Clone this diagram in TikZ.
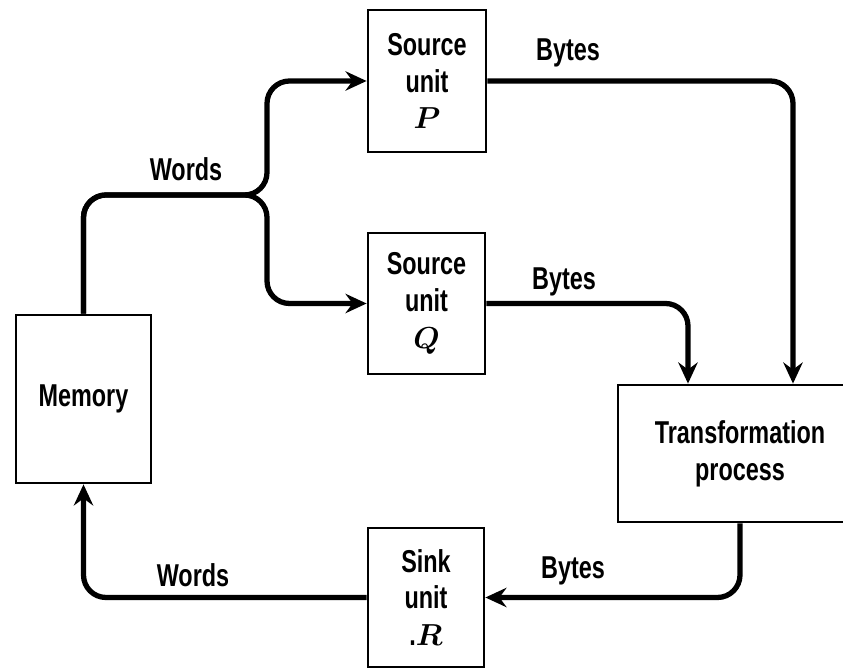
\documentclass[tikz,border=0pt]{standalone}
\usepackage{fontspec}
\setmainfont{Liberation Sans}[FakeStretch=0.74]
\usetikzlibrary{positioning,arrows.meta}

\begin{document}
\begin{tikzpicture}[x=0.02cm,y=-0.02cm,
		txt/.style={font=\bfseries\boldmath\fontsize{18}{21}\selectfont, inner sep=0pt},
		unitbox/.style={txt, draw, line width=1.6pt, align=center},
		wire/.style={line width=3pt, rounded corners=0.45cm,
			-{Stealth[length=12pt,width=11pt,inset=4pt]}}]
	\useasboundingbox (0,0) rectangle (843,668);
	\clip (0,0) rectangle (843,668);
	\node[unitbox, minimum width=2.7cm, minimum height=3.36cm] (mem) at (83.5,399) {Memory};
	\node[unitbox, minimum width=2.36cm, minimum height=2.84cm] (srcP) at (427,81) {Source\\unit\\$P$};
	\node[unitbox, minimum width=2.34cm, minimum height=2.82cm] (srcQ) at (426.5,303.5) {Source\\unit\\$Q$};
	\node[unitbox, minimum width=4.88cm, minimum height=2.74cm] (trans) at (740,453.5) {Transformation\\process};
	\node[unitbox, minimum width=2.32cm, minimum height=2.78cm] (sink) at (426,597.5) {Sink\\unit\\.$R$};
	\coordinate (split) at (267,195);
	\coordinate (inQ) at (688,0);
	\coordinate (inP) at (793,0);
	\draw[wire] (mem.north) |- (split) |- (srcP.west);
	\draw[wire] (mem.north) |- (split) |- (srcQ.west);
	\draw[wire] (srcP.east) -| (inP |- trans.north);
	\draw[wire] (srcQ.east) -| (inQ |- trans.north);
	\draw[wire] (trans.south) |- (sink.east);
	\draw[wire] (sink.west) -| (mem.south);
	\node[txt] (wordsTop) at (186,169) {Words};
	\node[txt] (bytesP) at (568,53) {Bytes};
	\node[txt] (bytesQ) at (564,282) {Bytes};
	\node[txt] (bytesR) at (573,571) {Bytes};
	\node[txt] (wordsBot) at (193,575) {Words};
\end{tikzpicture}
\end{document}
